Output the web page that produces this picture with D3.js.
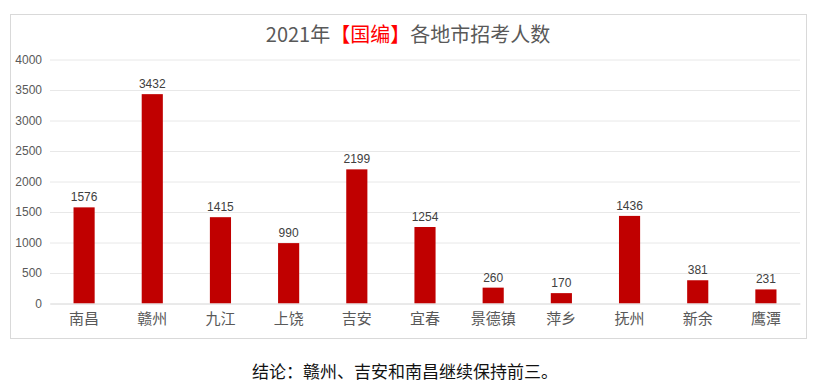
<!DOCTYPE html>
<html>
<head>
<meta charset="utf-8">
<script src="https://cdn.jsdelivr.net/npm/d3@7"></script>
<style>
  body { margin: 0; background: #fff; }
</style>
</head>
<body>
<svg width="830" height="389"></svg>
<script>
(function (d3) {
  'use strict';

  // datos
  const ciudades = ['南昌', '赣州', '九江', '上饶', '吉安', '宜春', '景德镇', '萍乡', '抚州', '新余', '鹰潭'];
  const plazas = [1576, 3432, 1415, 990, 2199, 1254, 260, 170, 1436, 381, 231];
  const ticks = [0, 500, 1000, 1500, 2000, 2500, 3000, 3500, 4000];

  const cjk = '"Noto Sans CJK SC", "Noto Sans", sans-serif';
  const num = '"Liberation Sans", Arial, sans-serif';

  const svg = d3.select('svg');

  // marco del gráfico
  svg.append('rect')
    .attr('x', 10.5).attr('y', 14.5)
    .attr('width', 796).attr('height', 324)
    .attr('fill', '#fff')
    .attr('stroke', '#d9d9d9');

  const izq = 50, der = 800, arriba = 59.5, abajo = 303.5;

  const x = d3.scaleBand()
    .domain(ciudades)
    .range([izq, der])
    .paddingInner(0.69)
    .paddingOuter(0.345);

  const y = d3.scaleLinear()
    .domain([0, 4000])
    .range([abajo, arriba]);

  // rejilla
  svg.append('g')
    .attr('transform', `translate(${izq},0)`)
    .call(d3.axisLeft(y).tickValues(ticks).tickFormat(d3.format('d')).tickSize(-(der - izq)).tickPadding(8))
    .call(g => g.select('.domain').remove())
    .call(g => g.selectAll('.tick line').attr('stroke', '#e8e8e8'))
    .call(g => g.selectAll('.tick text')
      .attr('fill', '#595959')
      .style('font-size', '12px')
      .style('font-family', num));

  // barras
  svg.append('g')
    .selectAll('rect')
    .data(plazas)
    .join('rect')
      .attr('x', (d, i) => x(ciudades[i]))
      .attr('y', d => y(d))
      .attr('width', x.bandwidth())
      .attr('height', d => y(0) - y(d))
      .attr('fill', '#c00000');

  // etiquetas de valor
  svg.append('g')
    .selectAll('text')
    .data(plazas)
    .join('text')
      .attr('x', (d, i) => x(ciudades[i]) + x.bandwidth() / 2)
      .attr('y', d => y(d) - 6)
      .attr('text-anchor', 'middle')
      .style('font-size', '12px')
      .style('font-family', num)
      .attr('fill', '#404040')
      .text(d => d);

  // eje x
  svg.append('g')
    .attr('transform', `translate(0,${abajo})`)
    .call(d3.axisBottom(x).tickSize(0).tickPadding(10))
    .call(g => g.select('.domain').attr('stroke', '#e0e0e0'))
    .call(g => g.selectAll('.tick text')
      .attr('fill', '#595959')
      .style('font-size', '15px')
      .style('font-family', cjk));

  // título
  const titulo = svg.append('text')
    .attr('x', 408).attr('y', 42)
    .attr('text-anchor', 'middle')
    .style('font-size', '20px')
    .style('font-family', cjk)
    .attr('fill', '#595959');
  titulo.append('tspan').text('2021年');
  titulo.append('tspan').attr('fill', '#ff0000').text('【国编】');
  titulo.append('tspan').text('各地市招考人数');

  // conclusión
  svg.append('text')
    .attr('x', 405).attr('y', 378)
    .attr('text-anchor', 'middle')
    .style('font-size', '17px')
    .style('font-family', cjk)
    .attr('fill', '#111')
    .text('结论：赣州、吉安和南昌继续保持前三。');

}(d3));
</script>
</body>
</html>
